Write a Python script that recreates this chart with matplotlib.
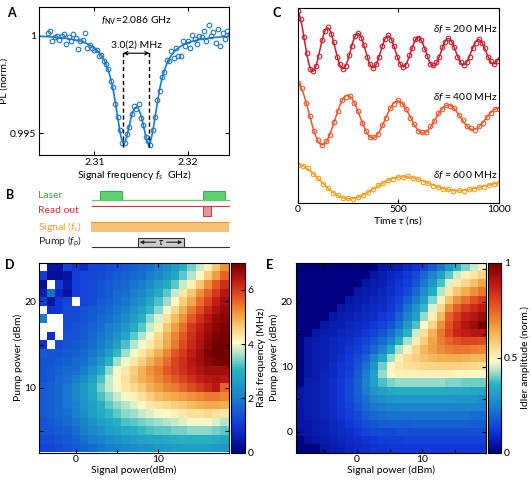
import numpy as np
import matplotlib
matplotlib.use("Agg")
import matplotlib.pyplot as plt
from matplotlib.colors import LinearSegmentedColormap
from matplotlib.patches import Rectangle

plt.rcParams['font.family'] = ['Lato', 'DejaVu Sans']
plt.rcParams['font.size'] = 7.5
plt.rcParams['mathtext.fontset'] = 'custom'
plt.rcParams['mathtext.rm'] = 'Lato'
plt.rcParams['mathtext.it'] = 'Lato:italic'
plt.rcParams['axes.linewidth'] = 0.8

# ---------------- data ----------------
# A: ODMR dip (GHz, normalised PL)
odmr_f = np.arange(2.305, 2.32451, 0.00025)
odmr_pl = [1.00016, 1.00025, 0.99974, 0.99993, 1.00002, 0.99980, 1.00000, 1.00010,
           0.99956, 0.99995, 0.99973, 1.00010, 0.99988, 0.99935, 0.99973, 0.99979,
           1.00015, 0.99940, 0.99954, 0.99936, 0.99928, 0.99927, 0.99895, 0.99900,
           0.99870, 0.99855, 0.99832, 0.99770, 0.99737, 0.99650, 0.99582, 0.99518,
           0.99448, 0.99452, 0.99498, 0.99531, 0.99600, 0.99642, 0.99623, 0.99652,
           0.99580, 0.99541, 0.99478, 0.99462, 0.99438, 0.99518, 0.99582, 0.99670,
           0.99717, 0.99790, 0.99812, 0.99875, 0.99870, 0.99920, 0.99885, 0.99937,
           0.99898, 0.99896, 0.99974, 0.99950, 0.99975, 0.99939, 1.00003, 0.99985,
           0.99958, 1.00000, 0.99993, 1.00025, 0.99976, 1.00058, 1.00000, 1.00020,
           0.99962, 1.00033, 0.99950, 1.00015, 0.99986, 1.00027, 1.00010]
dip_centers = [2.3131, 2.3159]     # GHz
dip_depth = 0.00494
dip_hwhm = 0.0011                  # GHz
dip_base = 1.0001

# C: Rabi oscillations (offset traces, arb. units)
red_t = np.arange(0, 1000, 15)
red_y = [.985, .945, .852, .770, .690, .678, .705, .755, .835, .885, .902, .870, .826, .750,
         .712, .686, .703, .760, .806, .860, .873, .848, .812, .748, .714, .692, .712, .748,
         .808, .840, .862, .838, .805, .748, .716, .700, .710, .758, .795, .840, .846, .838,
         .793, .757, .714, .708, .722, .750, .800, .828, .848, .826, .800, .750, .724, .706,
         .726, .752, .798, .824, .842, .822, .798, .752, .728, .712, .730]
orange_t = np.arange(0, 1001, 20)
orange_y = [.615, .590, .515, .448, .368, .322, .295, .315, .350, .415, .470, .528, .546,
            .550, .514, .472, .412, .370, .336, .338, .352, .398, .438, .488, .510, .526,
            .506, .484, .436, .404, .368, .362, .362, .392, .418, .460, .482, .504, .496,
            .486, .450, .426, .394, .382, .374, .394, .410, .442, .460, .484, .482]
yellow_t = np.arange(0, 1001, 25)
yellow_y = [.195, .188, .176, .150, .128, .098, .078, .052, .038, .026, .022, .020, .030,
            .038, .056, .068, .089, .100, .118, .124, .134, .132, .136, .126, .122, .108,
            .102, .088, .082, .070, .068, .062, .064, .060, .068, .070, .080, .083, .092,
            .095, .100]
# fit parameters: offset, decaying offset, slow amp, slow T, fast amp, fast T, period
red_fit = (0.775, 0.045, 150, 0.10, 2000, 0.065, 100, 150)
orange_fit = (0.435, 0.0, 300, 0.155, 890, 0.03, 50, 250)
yellow_fit = (0.09, 0.0, 300, 0.109, 594, 0.0, 50, 540)
c_labels = [r'$\delta f$ = 200 MHz', r'$\delta f$ = 400 MHz', r'$\delta f$ = 600 MHz']
c_label_y = [0.892, 0.545, 0.142]
c_colors = ['#c8202f', '#ea5a2c', '#efa01e']

# D: Rabi frequency (MHz), rows pump 24 -> 3 dBm, cols signal -4 -> 18 dBm
nan = np.nan
rabi = [
    [nan, .4, .4, 1.2, 1.0, .8, 1.2, 1.2, 1.3, 1.4, 1.5, 1.6, 1.7, 1.8, 2.0, 2.3, 2.6, 3.0, 3.4, 3.8, 4.2, 4.7, 5.2],
    [1.1, .3, .3, .4, 1.1, 1.2, 1.2, 1.3, 1.4, 1.5, 1.6, 1.7, 1.8, 2.0, 2.2, 2.5, 2.8, 3.3, 3.7, 4.1, 4.6, 5.1, 5.6],
    [.3, nan, 1.0, .5, 1.1, 1.2, 1.3, 1.4, 1.5, 1.6, 1.7, 1.9, 2.0, 2.3, 2.6, 2.9, 3.3, 3.8, 4.2, 4.7, 5.2, 5.7, 6.1],
    [.6, 1.8, .7, .4, 1.1, 1.2, 1.3, 1.4, 1.5, 1.7, 1.8, 2.0, 2.2, 2.5, 2.9, 3.3, 3.8, 4.3, 4.7, 5.2, 5.6, 6.0, 6.4],
    [1.1, .4, 1.0, 1.2, nan, 1.2, 1.3, 1.5, 1.6, 1.8, 1.9, 2.2, 2.4, 2.8, 3.2, 3.6, 4.1, 4.6, 5.0, 5.5, 5.9, 6.3, 6.6],
    [nan, .9, 1.0, 1.3, 1.3, 1.4, 1.5, 1.6, 1.7, 1.9, 2.1, 2.4, 2.7, 3.1, 3.5, 4.0, 4.5, 4.9, 5.4, 5.8, 6.2, 6.5, 6.7],
    [2.0, nan, nan, 1.3, 1.3, 1.4, 1.5, 1.7, 1.8, 2.0, 2.3, 2.6, 3.0, 3.5, 3.9, 4.4, 4.8, 5.2, 5.7, 6.1, 6.4, 6.7, 6.8],
    [nan, nan, nan, 1.3, 1.4, 1.5, 1.6, 1.8, 2.0, 2.2, 2.5, 2.9, 3.3, 3.8, 4.2, 4.7, 5.1, 5.5, 6.0, 6.3, 6.6, 6.8, 6.9],
    [nan, .8, nan, 1.4, 1.4, 1.5, 1.7, 1.9, 2.1, 2.4, 2.8, 3.3, 3.7, 4.0, 4.5, 4.9, 5.3, 5.7, 6.1, 6.4, 6.7, 6.9, 7.0],
    [.9, nan, 1.3, 1.4, 1.5, 1.6, 1.8, 2.0, 2.3, 2.7, 3.2, 3.7, 4.0, 4.3, 4.6, 5.0, 5.4, 5.8, 6.2, 6.5, 6.8, 7.0, 7.0],
    [1.5, 1.4, 1.4, 1.5, 1.6, 1.7, 1.9, 2.2, 2.6, 3.1, 3.6, 4.0, 4.3, 4.6, 4.9, 5.3, 5.7, 6.0, 6.3, 6.6, 6.9, 7.0, 7.0],
    [1.4, 1.4, 1.5, 1.6, 1.7, 1.8, 2.1, 2.5, 3.0, 3.6, 4.0, 4.3, 4.6, 4.9, 5.2, 5.5, 5.9, 6.1, 6.4, 6.6, 6.8, 6.9, 7.0],
    [1.4, 1.5, 1.6, 1.7, 1.8, 2.0, 2.4, 2.9, 3.5, 4.0, 4.3, 4.6, 4.9, 5.2, 5.4, 5.7, 5.9, 6.1, 6.3, 6.5, 6.6, 6.6, 6.6],
    [1.4, 1.5, 1.7, 1.8, 2.0, 2.3, 2.7, 3.2, 3.8, 4.1, 4.4, 4.7, 4.9, 5.1, 5.3, 5.5, 5.7, 5.9, 6.1, 6.3, 6.4, 6.5, 6.4],
    [1.5, 1.6, 1.7, 1.9, 2.2, 2.5, 2.9, 3.4, 3.8, 4.0, 4.3, 4.5, 4.7, 4.9, 5.1, 5.3, 5.4, 5.6, 5.8, 6.0, 6.2, 6.4, 5.6],
    [1.5, 1.6, 1.7, 1.9, 2.2, 2.5, 2.8, 3.2, 3.5, 3.8, 4.0, 4.2, 4.4, 4.6, 4.8, 4.9, 5.0, 5.1, 5.2, 5.3, 5.4, 5.4, 5.3],
    [1.5, 1.6, 1.7, 1.9, 2.1, 2.4, 2.7, 3.0, 3.3, 3.5, 3.7, 3.9, 4.1, 4.3, 4.4, 4.5, 4.6, 4.7, 4.8, 4.9, 5.0, 5.0, 4.9],
    [1.5, 1.6, 1.7, 1.8, 2.0, 2.3, 2.6, 2.9, 3.1, 3.3, 3.5, 3.6, 3.8, 3.9, 4.0, 4.1, 4.2, 4.3, 4.4, 4.4, 4.5, 4.4, 4.3],
    [1.4, 1.5, 1.6, 1.7, 1.9, 2.1, 2.4, 2.6, 2.8, 3.0, 3.2, 3.3, 3.4, 3.5, 3.6, 3.7, 3.8, 3.9, 4.0, 4.0, 4.0, 3.9, 3.7],
    [1.4, 1.4, 1.5, 1.6, 1.8, 2.0, 2.2, 2.4, 2.6, 2.7, 2.9, 3.0, 3.1, 3.2, 3.3, 3.3, 3.4, 3.4, 3.5, 3.5, 3.5, 3.4, 3.3],
    [1.3, 1.3, 1.4, 1.5, 1.6, 1.8, 2.0, 2.1, 2.3, 2.4, 2.5, 2.6, 2.7, 2.8, 2.8, 2.9, 2.9, 3.0, 3.0, 3.0, 3.0, 2.9, 2.8],
    [1.2, 1.2, 1.3, 1.4, 1.5, 1.6, 1.7, 1.9, 2.0, 2.1, 2.2, 2.3, 2.4, 2.4, 2.5, 2.5, 2.6, 2.6, 2.6, 2.6, 2.6, 2.5, 2.5],
]
d_signal_edges = np.arange(-4.5, 19, 1.0)
d_pump_edges = np.arange(24.5, 2, -1.0)

# E: idler amplitude (norm.), rows top (high pump) -> bottom
idler = [
    [0, 0, 0, 0, 0, 0, 0, 0, 0, 0, .05, .06, .07, .09, .11, .14, .18, .23, .30, .36, .41, .45, .50],
    [0, 0, 0, 0, 0, 0, 0, 0, 0, .05, .06, .08, .10, .12, .15, .20, .26, .32, .39, .45, .50, .53, .57],
    [0, 0, 0, 0, 0, 0, 0, 0, .05, .06, .07, .09, .11, .13, .17, .23, .30, .38, .46, .52, .56, .60, .65],
    [0, 0, 0, 0, 0, 0, 0, .05, .06, .07, .08, .10, .12, .15, .20, .27, .35, .44, .52, .59, .64, .68, .72],
    [0, 0, 0, 0, 0, 0, .05, .06, .07, .08, .09, .11, .14, .18, .24, .32, .41, .50, .60, .68, .73, .78, .82],
    [0, 0, 0, 0, 0, .05, .06, .07, .08, .09, .10, .12, .16, .22, .29, .37, .46, .56, .68, .76, .81, .85, .88],
    [0, 0, 0, 0, .05, .06, .07, .08, .09, .10, .12, .14, .19, .25, .32, .42, .51, .62, .75, .82, .87, .90, .93],
    [0, 0, 0, .05, .06, .07, .08, .09, .10, .12, .14, .17, .22, .30, .38, .48, .57, .68, .78, .85, .90, .94, 1.0],
    [0, 0, .05, .06, .07, .08, .09, .10, .12, .14, .17, .21, .28, .36, .45, .54, .63, .72, .80, .86, .88, .90, .90],
    [0, .05, .06, .07, .08, .09, .10, .12, .14, .17, .21, .26, .35, .43, .51, .58, .65, .71, .75, .78, .80, .80, .79],
    [0, .05, .06, .07, .08, .09, .11, .13, .16, .20, .26, .34, .43, .50, .56, .62, .66, .69, .71, .72, .72, .71, .70],
    [0, .05, .06, .07, .08, .10, .12, .15, .19, .25, .33, .42, .50, .55, .58, .60, .62, .63, .64, .64, .63, .62, .62],
    [0, .05, .06, .07, .09, .11, .13, .17, .22, .30, .40, .48, .52, .54, .55, .56, .57, .57, .57, .57, .56, .56, .55],
    [0, .05, .06, .08, .09, .11, .14, .18, .24, .32, .42, .48, .50, .50, .50, .50, .50, .50, .50, .49, .49, .48, .48],
    [0, .06, .07, .08, .10, .12, .15, .19, .25, .32, .38, .41, .42, .42, .42, .42, .42, .42, .41, .41, .40, .40, .40],
    [.05, .06, .07, .08, .10, .12, .15, .19, .24, .29, .32, .34, .35, .35, .35, .35, .35, .35, .34, .34, .34, .33, .33],
    [.05, .06, .07, .08, .10, .12, .15, .18, .22, .26, .28, .29, .30, .30, .30, .30, .30, .30, .30, .29, .29, .29, .28],
    [.05, .06, .07, .08, .10, .12, .14, .17, .20, .23, .24, .25, .26, .26, .26, .26, .26, .26, .26, .25, .25, .25, .25],
    [.05, .06, .07, .08, .09, .11, .13, .15, .18, .20, .21, .22, .22, .22, .22, .22, .22, .22, .22, .22, .22, .21, .21],
    [.05, .05, .06, .07, .08, .10, .12, .14, .16, .17, .18, .18, .18, .18, .19, .19, .19, .19, .19, .19, .19, .18, .18],
    [.04, .05, .06, .07, .08, .09, .10, .12, .14, .15, .15, .15, .16, .16, .16, .16, .16, .16, .16, .16, .16, .16, .16],
    [0, .04, .05, .06, .07, .08, .09, .10, .11, .12, .13, .13, .13, .14, .14, .14, .14, .14, .14, .14, .14, .14, .14],
    [0, 0, 0, .05, .06, .07, .08, .09, .10, .11, .11, .12, .12, .12, .12, .12, .12, .12, .12, .12, .12, .12, .12],
]
e_signal_edges = np.linspace(-9.3, 19.7, 24)
e_pump_edges = np.linspace(26.0, -3.2, 24)

# B: pulse sequence, time in arbitrary units 0..100
laser_pulses = [(6, 22.3), (81.5, 97.6)]
readout_pulse = (81.5, 87)
pump_pulse = (33.6, 67.6)


def make_cmap(cream):
    stops = [(0.0, (0.0, 0.0, 0.5)), (0.25 * cream, (0.07, 0.22, 0.85)),
             (0.5 * cream, (0.1, 0.5, 0.8)), (0.75 * cream, (0.15, 0.7, 0.76)),
             (0.88 * cream, (0.6, 0.87, 0.8)), (cream, (1.0, 0.98, 0.78)),
             (cream + 0.17 * (1 - cream), (0.98, 0.83, 0.52)),
             (cream + 0.34 * (1 - cream), (0.94, 0.64, 0.26)),
             (cream + 0.55 * (1 - cream), (0.9, 0.35, 0.14)),
             (cream + 0.78 * (1 - cream), (0.75, 0.1, 0.08)),
             (1.0, (0.45, 0.0, 0.0))]
    return LinearSegmentedColormap.from_list('nv', stops)


def px_axes(fig, l, t, r, b):
    W, H = 531.0, 482.0
    return fig.add_axes([l / W, 1 - b / H, (r - l) / W, (b - t) / H])


def rabi_fit(t, p):
    c, b, tb, a1, t1, a2, t2, per = p
    amp = a1 * np.exp(-t / t1) + a2 * np.exp(-t / t2)
    return c + b * np.exp(-t / tb) + amp * np.cos(2 * np.pi * t / per)


fig = plt.figure(figsize=(5.31, 4.82), dpi=100)

# ---------------- A ----------------
axA = px_axes(fig, 39, 7.3, 228.7, 155)
blue = '#1f78c8'
ff = np.linspace(2.304, 2.3245, 600)
lor = sum(dip_hwhm**2 / ((ff - c)**2 + dip_hwhm**2) for c in dip_centers)
axA.plot(ff, dip_base - dip_depth * lor, color=blue, lw=1.2)
axA.plot(odmr_f, odmr_pl, 'o', ms=3.3, mfc='none', mec=blue, mew=0.8)
for c in dip_centers:
    axA.plot([c, c], [0.9943, 0.99915], 'k--', lw=1.0, dashes=(3, 2))
axA.annotate('', xy=(dip_centers[0], 0.99911), xytext=(dip_centers[1], 0.99911),
             arrowprops=dict(arrowstyle='<->', lw=0.8, mutation_scale=6, shrinkA=0, shrinkB=0))
axA.text(2.3145, 0.99953, '3.0(2) MHz', ha='center', va='center', fontsize=7.5)
axA.text(2.3145, 1.00079, r'$f_{\mathrm{NV}}$=2.086 GHz', ha='center', va='center', fontsize=7.5)
axA.set_xlim(2.30407, 2.3244)
axA.set_ylim(0.99388, 1.00147)
axA.set_xticks([2.31, 2.32])
axA.set_xticklabels(['2.31', '2.32'])
axA.set_yticks([0.995, 1.0])
axA.set_yticklabels(['0.995', '1'])
axA.tick_params(direction='in', top=True, right=True, length=3, width=0.8, pad=2)
axA.set_xlabel(r'Signal frequency $f_s$  GHz)', labelpad=1)
axA.set_ylabel('PL (norm.)', labelpad=1)

# ---------------- C ----------------
axC = px_axes(fig, 297.7, 8.3, 498.7, 202.7)
tt = np.linspace(0, 1000, 800)
for (t, y, p, col, lab, ly) in zip([red_t, orange_t, yellow_t], [red_y, orange_y, yellow_y],
                                   [red_fit, orange_fit, yellow_fit], c_colors, c_labels, c_label_y):
    axC.plot(tt, rabi_fit(tt, p), color=col, lw=1.1)
    axC.plot(t, y, 'o', ms=3.3, mfc='none', mec=col, mew=0.8)
    axC.text(995, ly, lab, ha='right', va='center', fontsize=7.5)
axC.set_xlim(0, 1000)
axC.set_ylim(0, 1)
axC.set_xticks([0, 500, 1000])
axC.set_yticks([])
axC.tick_params(direction='in', top=True, length=3, width=0.8, pad=2)
axC.set_xlabel(r'Time $\tau$ (ns)', labelpad=0)

# ---------------- B ----------------
axB = px_axes(fig, 0, 182, 240, 252)
axB.set_xlim(0, 240)
axB.set_ylim(252, 182)
axB.axis('off')
x0, x1 = 91.7, 228.7
sx = (x1 - x0) / 100.0
lab_x = 38.3
axB.text(lab_x, 195, 'Laser', color='#3aa63a', va='center')
axB.text(lab_x, 210.7, 'Read out', color='#d8323c', va='center')
axB.text(lab_x, 226.7, r'Signal ($f_{\mathrm{s}}$)', color='#f0a030', va='center')
axB.text(lab_x, 242.3, r'Pump ($f_{\mathrm{p}}$)', color='#222222', va='center')
axB.plot([x0, x1], [200, 200], color='#6cc46c', lw=1.0)
for a, b in laser_pulses:
    axB.add_patch(Rectangle((x0 + a * sx, 190.7), (b - a) * sx, 9.3,
                            fc='#5ad26e', ec='#3aa650', lw=0.7))
axB.plot([x0, x1], [206, 206], color='#d8323c', lw=0.8)
a, b = readout_pulse
axB.add_patch(Rectangle((x0 + a * sx, 206), (b - a) * sx, 9.7, fc='#e8939c', ec='#d8323c', lw=0.7))
axB.add_patch(Rectangle((91, 221.7), x1 - 91, 10, fc='#f9c27a', ec='none'))
axB.plot([91, x1], [221.9, 221.9], color='#f0962a', lw=0.8)
axB.plot([x0, x1], [246.7, 246.7], color='#333333', lw=0.8)
a, b = pump_pulse
pa, pb = x0 + a * sx, x0 + b * sx
axB.add_patch(Rectangle((pa, 237.7), pb - pa, 9, fc='#cccccc', ec='#333333', lw=0.8))
pm = 0.5 * (pa + pb)
for end in (pa + 2, pb - 2):
    axB.annotate('', xy=(end, 242.2), xytext=(pm, 242.2),
                 arrowprops=dict(arrowstyle='-|>', lw=0.8, mutation_scale=5, color='#222222',
                                 shrinkA=4, shrinkB=0))
axB.text(pm, 242.2, r'$\tau$', ha='center', va='center', fontsize=7)

# ---------------- D ----------------
axD = px_axes(fig, 38.7, 262.7, 228.7, 452.7)
cmapD = make_cmap(0.58)
cmapD.set_bad('white')
meshD = axD.pcolormesh(d_signal_edges, d_pump_edges, np.ma.masked_invalid(np.array(rabi)),
                       cmap=cmapD, vmin=0, vmax=7)
axD.set_xlim(-4.5, 18.5)
axD.set_ylim(2.44, 24.5)
axD.set_xticks([0, 10])
axD.set_xticks([5], minor=True)
axD.set_yticks([10, 20])
axD.set_yticks([5, 15], minor=True)
axD.tick_params(which='both', direction='in', top=True, right=True, length=3, width=0.8, pad=2)
axD.set_xlabel('Signal power(dBm)', labelpad=1)
axD.set_ylabel('Pump power (dBm)', labelpad=1)
caxD = px_axes(fig, 231.3, 262.7, 245, 452.7)
cbD = fig.colorbar(meshD, cax=caxD, ticks=[0, 2, 4, 6])
cbD.ax.tick_params(direction='in', length=3, width=0.8, pad=2)
cbD.outline.set_linewidth(0.8)
cbD.set_label('Rabi frequency (MHz)', labelpad=2)

# ---------------- E ----------------
axE = px_axes(fig, 295.5, 262.7, 486.3, 452.7)
cmapE = make_cmap(0.48)
meshE = axE.pcolormesh(e_signal_edges, e_pump_edges, np.array(idler), cmap=cmapE, vmin=0, vmax=1)
axE.set_xlim(-9.3, 19.7)
axE.set_ylim(-3.2, 26)
axE.set_xticks([0, 10])
axE.set_xticks([-5, 5, 15], minor=True)
axE.set_yticks([0, 10, 20])
axE.set_yticks([5, 15, 25], minor=True)
axE.tick_params(which='both', direction='in', top=True, right=True, length=3, width=0.8, pad=2)
axE.set_xlabel('Signal power (dBm)', labelpad=1)
axE.set_ylabel('Pump power (dBm)', labelpad=1)
caxE = px_axes(fig, 487.7, 262.7, 501, 452.7)
cbE = fig.colorbar(meshE, cax=caxE, ticks=[0, 0.5, 1])
cbE.ax.set_yticklabels(['0', '0.5', '1'])
cbE.ax.tick_params(direction='in', length=3, width=0.8, pad=2)
cbE.outline.set_linewidth(0.8)
cbE.set_label('Idler amplitude (norm.)', labelpad=2)

# panel letters
for lab, x, y in [('A', 11.7, 13.3), ('C', 276.7, 13.3), ('B', 10, 195), ('D', 10, 265), ('E', 270, 265)]:
    fig.text(x / 531, 1 - y / 482, lab, fontsize=9, fontweight='bold', ha='center', va='center')

fig.savefig('out.png', dpi=100)
